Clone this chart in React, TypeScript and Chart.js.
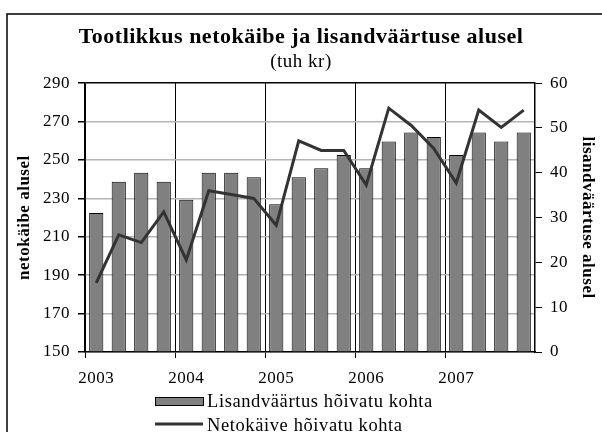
import { useEffect, useRef } from "react";
import { Chart, registerables } from "chart.js";

Chart.register(...registerables);

const years = ["2003", "2004", "2005", "2006", "2007"];
const quarters = ["I", "II", "III", "IV"];
const categories = years.flatMap((y) => quarters.map((q) => `${y} ${q}`));
const valueAdded = [31, 38, 40, 38, 34, 40, 40, 39, 33, 39, 41, 44, 41, 47, 49, 48, 44, 49, 47, 49];
const netTurnover = [186, 211, 207, 223, 198, 234, 232, 230, 216, 260, 255, 255, 237, 277, 268, 256, 238, 276, 267, 276];
const leftMin = 150;
const leftMax = 290;
const leftStep = 20;
const rightMin = 0;
const rightMax = 60;
const rightStep = 10;
const titleText = "Tootlikkus netokäibe ja lisandväärtuse alusel";
const subtitleText = "(tuh kr)";
const leftAxisTitle = "netokäibe alusel";
const rightAxisTitle = "lisandväärtuse alusel";
const barLabel = "Lisandväärtus hõivatu kohta";
const lineLabel = "Netokäive hõivatu kohta";

const FONT = "'Liberation Serif', 'Times New Roman', serif";
const BAR_FILL = "#808080";
const LINE_COLOR = "#333333";

const spacingPlugin = {
  id: "spacing",
  beforeUpdate(chart: any) {
    chart.ctx.letterSpacing = "0.5px";
  },
  beforeLayout(chart: any) {
    chart.ctx.letterSpacing = "0.5px";
  },
  beforeDraw(chart: any) {
    chart.ctx.letterSpacing = "0.5px";
  },
};

const framePlugin = {
  id: "frameLegend",
  afterDraw(chart: any) {
    const ctx = chart.ctx;
    const area = chart.chartArea;
    ctx.save();
    ctx.letterSpacing = "0.6px";
    // outer frame
    ctx.strokeStyle = "#000";
    ctx.lineWidth = 1.5;
    ctx.strokeRect(7, 14, 700, 600);
    // legend
    const x0 = 155;
    const x1 = 203;
    const y1 = area.bottom + 50;
    const y2 = area.bottom + 74;
    ctx.fillStyle = BAR_FILL;
    ctx.fillRect(x0, y1 - 5, x1 - x0, 8);
    ctx.strokeStyle = "#000";
    ctx.lineWidth = 1;
    ctx.strokeRect(x0 + 0.5, y1 - 5 + 0.5, x1 - x0, 8);
    ctx.strokeStyle = LINE_COLOR;
    ctx.lineWidth = 3;
    ctx.beginPath();
    ctx.moveTo(x0, y2 - 2);
    ctx.lineTo(x1, y2 - 2);
    ctx.stroke();
    ctx.fillStyle = "#000";
    ctx.font = `18.5px ${FONT}`;
    ctx.textBaseline = "middle";
    ctx.textAlign = "left";
    ctx.fillText(chart.data.datasets[0].label, 207, y1);
    ctx.fillText(chart.data.datasets[1].label, 207, y2);
    ctx.restore();
  },
};

export default function App() {
  const ref = useRef<HTMLCanvasElement | null>(null);
  useEffect(() => {
    if (!ref.current) return;
    const chart = new Chart(ref.current, {
      type: "bar",
      data: {
        labels: categories,
        datasets: [
          {
            type: "bar",
            label: barLabel,
            data: valueAdded,
            yAxisID: "y1",
            backgroundColor: BAR_FILL,
            borderColor: "#000",
            borderWidth: 1,
            categoryPercentage: 0.63,
            barPercentage: 1,
            order: 2,
          },
          {
            type: "line",
            label: lineLabel,
            data: netTurnover,
            yAxisID: "y",
            borderColor: LINE_COLOR,
            borderWidth: 3,
            pointRadius: 0,
            tension: 0,
            fill: false,
            order: 1,
          } as any,
        ],
      },
      plugins: [spacingPlugin, framePlugin],
      options: {
        responsive: false,
        animation: false,
        devicePixelRatio: 1,
        layout: { padding: { left: 0, right: 0, top: 0, bottom: 40 } },
        plugins: {
          legend: { display: false },
          tooltip: { enabled: false },
          title: {
            display: true,
            text: titleText,
            color: "#000",
            font: { family: FONT, size: 22, weight: "bold" },
            padding: { top: 24, bottom: 0 },
          },
          subtitle: {
            display: true,
            text: subtitleText,
            color: "#000",
            font: { family: FONT, size: 19, weight: "normal" },
            padding: { top: 0, bottom: 10 },
          },
        },
        scales: {
          x: {
            type: "category",
            offset: true,
            afterFit(scale: any) {
              scale.height = 40;
            },
            grid: {
              offset: true,
              color: (c: any) => (c.index !== undefined && c.index % 4 === 0 ? "#000" : "rgba(0,0,0,0)"),
              tickColor: (c: any) => (c.index !== undefined && c.index % 4 === 0 ? "#000" : "rgba(0,0,0,0)"),
              tickLength: 6,
              lineWidth: 1,
            },
            border: { color: "#000", width: 1.5 },
            ticks: {
              autoSkip: false,
              maxRotation: 0,
              minRotation: 0,
              padding: 10,
              color: "#000",
              font: { family: FONT, size: 17 },
              callback: (_v: any, i: number) => (i % 4 === 0 ? categories[i].split(" ")[0] : ""),
            },
          },
          y: {
            position: "left",
            min: leftMin,
            max: leftMax,
            afterFit(scale: any) {
              scale.width = 85;
            },
            ticks: {
              stepSize: leftStep,
              padding: 8,
              color: "#000",
              font: { family: FONT, size: 17 },
            },
            grid: {
              color: (c: any) => (c.tick && c.tick.value === leftMax ? "#000" : "#b4b4b4"),
              tickColor: "#000",
              tickLength: 7,
              lineWidth: 1.5,
            },
            border: { color: "#000", width: 1.5 },
            title: {
              display: true,
              text: leftAxisTitle,
              color: "#000",
              font: { family: FONT, size: 17, weight: "bold" },
              padding: { top: 14, bottom: 0 },
            },
          },
          y1: {
            position: "right",
            min: rightMin,
            max: rightMax,
            afterFit(scale: any) {
              scale.width = 67;
            },
            ticks: {
              stepSize: rightStep,
              padding: 8,
              color: "#000",
              font: { family: FONT, size: 17 },
            },
            grid: {
              drawOnChartArea: false,
              drawTicks: true,
              tickColor: "#000",
              tickLength: 7,
            },
            border: { color: "#000", width: 1.5 },
            title: {
              display: true,
              text: rightAxisTitle,
              color: "#000",
              font: { family: FONT, size: 17, weight: "bold" },
              padding: { top: 4, bottom: 0 },
            },
          },
        },
      } as any,
    });
    return () => chart.destroy();
  }, []);
  return (
    <div style={{ position: "fixed", left: 0, top: 0, width: 602, height: 432, overflow: "hidden", background: "#fff" }}>
      <canvas ref={ref} width={602} height={432} style={{ display: "block", width: 602, height: 432 }} />
    </div>
  );
}
